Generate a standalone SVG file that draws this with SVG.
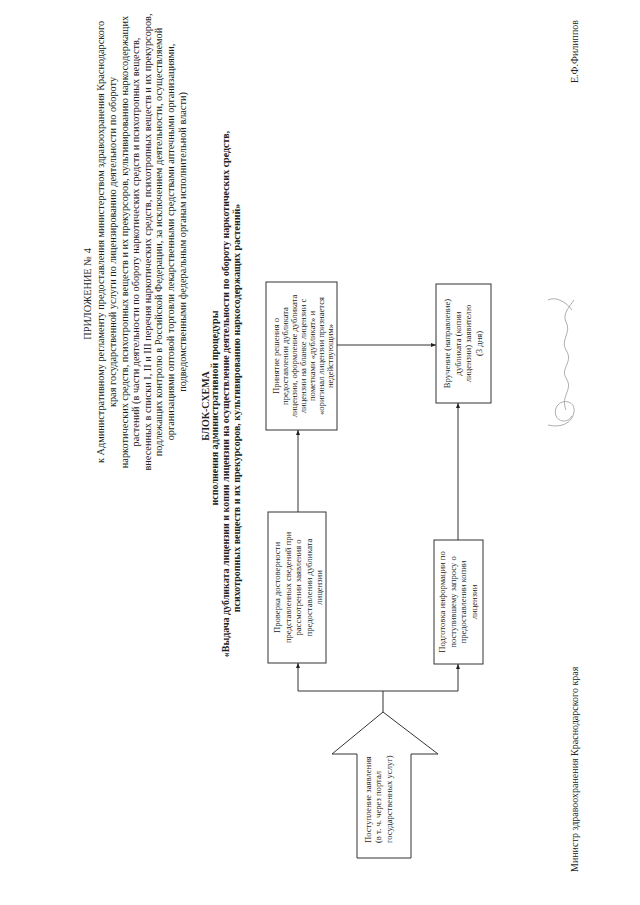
<svg xmlns="http://www.w3.org/2000/svg" width="640" height="905" viewBox="0 0 640 905">
<style>
  text { font-family: "Liberation Serif", "Times New Roman", serif; fill: #222; }
  .hdr { font-size: 10.3px; text-anchor: middle; }
  .ttl { font-size: 10px; font-weight: bold; text-anchor: middle; }
  .box { fill: #fff; stroke: #333; stroke-width: 1; }
  .bt { font-size: 8.6px; text-anchor: middle; }
  .at { font-size: 8.6px; text-anchor: start; }
  .con { fill: none; stroke: #333; stroke-width: 1; }
  .sig { font-size: 10px; }
</style>
<defs>
  <marker id="ah" viewBox="0 0 10 10" refX="10" refY="5" markerWidth="5" markerHeight="5" orient="auto" markerUnits="userSpaceOnUse">
    <path d="M0,1 L10,5 L0,9 z" fill="#222"/>
  </marker>
</defs>
<rect width="640" height="905" fill="#fff"/>

<g id="header">
  <text class="hdr" transform="translate(91,294) rotate(-90)">ПРИЛОЖЕНИЕ № 4</text>
  <text class="hdr" transform="translate(103.5,242) rotate(-90)">к Административному регламенту предоставления министерством здравоохранения Краснодарского</text>
  <text class="hdr" transform="translate(115.5,242) rotate(-90)">края государственной услуги по лицензированию деятельности по обороту</text>
  <text class="hdr" transform="translate(127.5,242) rotate(-90)">наркотических средств, психотропных веществ и их прекурсоров, культивированию наркосодержащих</text>
  <text class="hdr" transform="translate(139,242) rotate(-90)">растений (в части деятельности по обороту наркотических средств и психотропных веществ,</text>
  <text class="hdr" transform="translate(150.5,242) rotate(-90)">внесенных в списки I, II и III перечня наркотических средств, психотропных веществ и их прекурсоров,</text>
  <text class="hdr" transform="translate(162,242) rotate(-90)">подлежащих контролю в Российской Федерации, за исключением деятельности, осуществляемой</text>
  <text class="hdr" transform="translate(174,242) rotate(-90)">организациями оптовой торговли лекарственными средствами аптечными организациями,</text>
  <text class="hdr" transform="translate(185.5,242) rotate(-90)">подведомственными федеральным органам исполнительной власти)</text>
</g>

<g id="title">
  <text class="ttl" transform="translate(209,406) rotate(-90)">БЛОК-СХЕМА</text>
  <text class="ttl" transform="translate(218,408) rotate(-90)">исполнения административной процедуры</text>
  <text class="ttl" transform="translate(228.5,394) rotate(-90)">«Выдача дубликата лицензии и копии лицензии на осуществление деятельности по обороту наркотических средств,</text>
  <text class="ttl" transform="translate(239.5,408) rotate(-90)">психотропных веществ и их прекурсоров, культивированию наркосодержащих растений»</text>
</g>

<g id="node-check">
  <rect class="box" x="268" y="512" width="58" height="151"/>
  <text class="bt" transform="translate(280,587.5) rotate(-90)">Проверка достоверности</text>
  <text class="bt" transform="translate(290.5,587.5) rotate(-90)">представленных сведений при</text>
  <text class="bt" transform="translate(301,587.5) rotate(-90)">рассмотрении заявления о</text>
  <text class="bt" transform="translate(311.5,587.5) rotate(-90)">предоставлении дубликата</text>
  <text class="bt" transform="translate(322,587.5) rotate(-90)">лицензии</text>
</g>

<g id="node-decision">
  <rect class="box" x="266" y="282" width="71" height="148"/>
  <text class="bt" transform="translate(279,356) rotate(-90)">Принятие решения о</text>
  <text class="bt" transform="translate(288,356) rotate(-90)">предоставлении дубликата</text>
  <text class="bt" transform="translate(297,356) rotate(-90)">лицензии, оформление дубликата</text>
  <text class="bt" transform="translate(306,356) rotate(-90)">лицензии на бланке лицензии с</text>
  <text class="bt" transform="translate(315,356) rotate(-90)">пометками «дубликат» и</text>
  <text class="bt" transform="translate(324,356) rotate(-90)">«оригинал лицензии признается</text>
  <text class="bt" transform="translate(333,356) rotate(-90)">недействующим»</text>
</g>

<g id="node-issue">
  <rect class="box" x="436" y="284" width="55" height="119"/>
  <text class="bt" transform="translate(450,343.5) rotate(-90)">Вручение (направление)</text>
  <text class="bt" transform="translate(460.5,343.5) rotate(-90)">дубликата (копии</text>
  <text class="bt" transform="translate(471,343.5) rotate(-90)">лицензии) заявителю</text>
  <text class="bt" transform="translate(481.5,343.5) rotate(-90)">(3 дня)</text>
</g>

<g id="node-copy">
  <rect class="box" x="434" y="540" width="49" height="124"/>
  <text class="bt" transform="translate(445,602) rotate(-90)">Подготовка информации по</text>
  <text class="bt" transform="translate(455.5,602) rotate(-90)">поступившему запросу о</text>
  <text class="bt" transform="translate(466,602) rotate(-90)">предоставлении копии</text>
  <text class="bt" transform="translate(476.5,602) rotate(-90)">лицензии</text>
</g>

<g id="node-start">
  <path class="box" d="M383,712 L438,754 L411,754 L411,858 L357,858 L357,754 L332,754 Z"/>
  <text class="at" transform="translate(371,843) rotate(-90)">Поступление заявления</text>
  <text class="at" transform="translate(381,843) rotate(-90)">(в т. ч. через портал</text>
  <text class="at" transform="translate(391.5,843) rotate(-90)">государственных услуг)</text>
</g>

<g id="connectors">
  <path class="con" d="M383,712 L383,691"/>
  <path class="con" d="M298,691 L458,691"/>
  <path class="con" d="M298,691 L298,663" marker-end="url(#ah)"/>
  <path class="con" d="M458,691 L458,664" marker-end="url(#ah)"/>
  <path class="con" d="M298,512 L298,430" marker-end="url(#ah)"/>
  <path class="con" d="M337,345 L436,345" marker-end="url(#ah)"/>
  <path class="con" d="M458,540 L458,403" marker-end="url(#ah)"/>
</g>

<g id="signature">
  <text class="sig" transform="translate(578,872) rotate(-90)">Министр здравоохранения Краснодарского края</text>
  <text class="sig" transform="translate(578,20) rotate(-90)" text-anchor="end">Е.Ф.Филиппов</text>
  <path d="M548,425 C560,428 572,424 574,412 C576,400 560,398 556,408 C552,420 566,426 572,416 M566,410 C560,395 574,390 566,378 C560,368 574,362 566,350 C560,340 572,332 566,322 C562,314 570,306 574,300 M548,300 C556,296 566,302 572,310" fill="none" stroke="#999" stroke-width="0.8"/>
</g>
</svg>
